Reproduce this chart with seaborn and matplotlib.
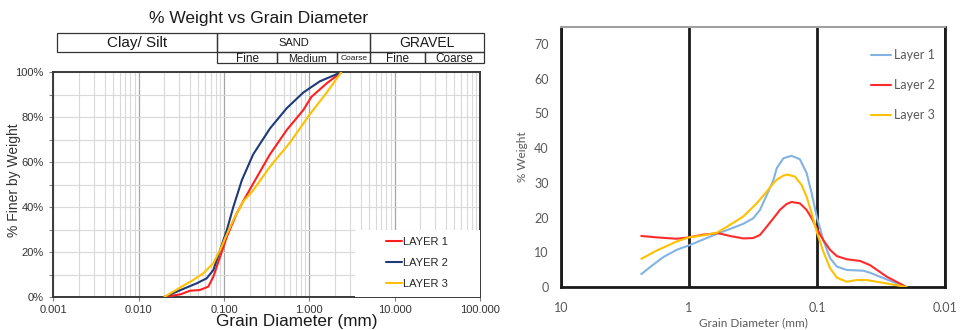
import pandas as pd
import matplotlib
matplotlib.use('Agg')
import matplotlib.pyplot as plt
from matplotlib.patches import Rectangle
from matplotlib.lines import Line2D
from matplotlib.ticker import FixedLocator, LogLocator, NullLocator, NullFormatter
import seaborn as sns

# ---- left chart: cumulative % finer ----
layer1_d = [0.020, 0.031, 0.040, 0.052, 0.0655, 0.075, 0.090, 0.108, 0.141, 0.17, 0.22,
            0.346, 0.543, 0.85, 1.06, 1.6, 2.36]
layer1_pct = [0, 1.2, 2.8, 3.1, 4.6, 9.0, 17.9, 26.8, 37.2, 43.0, 50.5,
              63.5, 74.3, 83.2, 89.1, 95.1, 100]
layer2_d = [0.020, 0.031, 0.048, 0.0627, 0.075, 0.090, 0.108, 0.1285, 0.162, 0.22,
            0.346, 0.543, 0.85, 1.33, 2.36]
layer2_pct = [0, 3.1, 6.1, 8.3, 12.0, 20.9, 29.8, 40.0, 52.0, 63.5,
              75.0, 84.0, 91.0, 96.0, 100]
layer3_d = [0.020, 0.031, 0.0437, 0.057, 0.075, 0.090, 0.103, 0.1285, 0.168, 0.22,
            0.346, 0.6, 1.0, 1.6, 2.36]
layer3_pct = [0, 4.3, 7.6, 10.5, 15.0, 20.9, 26.1, 34.3, 42.5, 47.5,
              58.0, 69.0, 81.0, 91.0, 100]

cum_labels = ['LAYER 1', 'LAYER 2', 'LAYER 3']
cum_colors = ['#ff1f1f', '#1f3a78', '#ffc000']
x_ticks_left = [0.001, 0.01, 0.1, 1, 10, 100]
x_ticklabels_left = ['0.001', '0.010', '0.100', '1.000', '10.000', '100.000']

# ---- right chart: % weight retained ----
w1_d = [2.36, 2.02, 1.59, 1.25, 1.0, 0.773, 0.608, 0.479, 0.377, 0.315, 0.279, 0.247,
        0.219, 0.2065, 0.183, 0.158, 0.136, 0.1205, 0.110, 0.1005, 0.0893, 0.079,
        0.070, 0.0586, 0.0435, 0.0385, 0.0286, 0.020]
w1 = [3.7, 5.7, 8.6, 10.7, 12.0, 13.7, 15.3, 16.7, 18.2, 19.8, 22.2, 26.5,
      30.8, 34.2, 37.1, 37.8, 36.8, 32.8, 27.0, 20.3, 13.5, 8.3,
      5.9, 4.9, 4.7, 4.1, 2.2, 0]
w2_d = [2.36, 1.79, 1.25, 1.0, 0.773, 0.59, 0.479, 0.377, 0.315, 0.279, 0.247, 0.219,
        0.194, 0.173, 0.158, 0.136, 0.1205, 0.110, 0.1005, 0.0893, 0.079, 0.070,
        0.0586, 0.046, 0.0385, 0.0286, 0.020]
w2 = [14.7, 14.3, 13.9, 14.3, 15.1, 15.5, 14.7, 14.0, 14.1, 15.0, 17.4, 19.8,
      22.3, 23.9, 24.5, 24.1, 22.2, 19.8, 16.9, 13.5, 10.7, 8.9,
      8.0, 7.5, 6.3, 3.0, 0]
w3_d = [2.36, 1.79, 1.25, 1.0, 0.773, 0.608, 0.479, 0.377, 0.296, 0.247, 0.219,
        0.2065, 0.183, 0.170, 0.1486, 0.132, 0.1205, 0.110, 0.1005, 0.0893, 0.079,
        0.070, 0.0586, 0.049, 0.0407, 0.0295, 0.020]
w3 = [8.1, 10.5, 13.1, 14.3, 14.9, 15.6, 17.9, 20.3, 24.1, 27.5, 29.9,
      30.9, 32.1, 32.4, 31.8, 29.4, 26.0, 21.2, 15.9, 10.2, 5.4,
      2.7, 1.5, 2.0, 2.0, 1.1, 0]

wt_labels = ['Layer 1', 'Layer 2', 'Layer 3']
wt_colors = ['#82b3e3', '#ff2b2b', '#ffc000']
x_ticks_right = [10, 1, 0.1, 0.01]
x_ticklabels_right = ['10', '1', '0.1', '0.01']

cum_df = pd.concat([
    pd.DataFrame({'d': layer1_d, 'pct': layer1_pct, 'layer': cum_labels[0]}),
    pd.DataFrame({'d': layer2_d, 'pct': layer2_pct, 'layer': cum_labels[1]}),
    pd.DataFrame({'d': layer3_d, 'pct': layer3_pct, 'layer': cum_labels[2]}),
])
wt_df = pd.concat([
    pd.DataFrame({'d': w1_d, 'w': w1, 'layer': wt_labels[0]}),
    pd.DataFrame({'d': w2_d, 'w': w2, 'layer': wt_labels[1]}),
    pd.DataFrame({'d': w3_d, 'w': w3, 'layer': wt_labels[2]}),
])

sns.set_theme(style='white')
plt.rcParams['font.family'] = ['Liberation Sans', 'DejaVu Sans']
calibri_like = ['Lato', 'DejaVu Sans']

fig = plt.figure(figsize=(9.61, 3.30), dpi=100)
W, H = 961, 330

def px_axes(l, t, r, b):
    return fig.add_axes([l / W, 1 - b / H, (r - l) / W, (b - t) / H])

# ================= left chart =================
ax1 = px_axes(53.3, 72.3, 480, 297)
ax1.set_xscale('log')
sns.lineplot(data=cum_df, x='d', y='pct', hue='layer', palette=dict(zip(cum_labels, cum_colors)),
             linewidth=1.5, legend=False, ax=ax1, zorder=4)
ax1.set_xlim(0.001, 100)
ax1.set_ylim(0, 100)
ax1.xaxis.set_major_locator(FixedLocator(x_ticks_left))
ax1.set_xticklabels(x_ticklabels_left)
ax1.xaxis.set_minor_locator(LogLocator(base=10, subs=range(2, 10)))
ax1.xaxis.set_minor_formatter(NullFormatter())
ax1.set_yticks(range(0, 101, 20))
ax1.set_yticklabels([f'{v}%' for v in range(0, 101, 20)])
ax1.yaxis.set_minor_locator(FixedLocator(range(10, 100, 20)))
ax1.grid(which='major', axis='x', color='#a6a6a6', linewidth=0.9)
ax1.grid(which='minor', axis='x', color='#d9d9d9', linewidth=0.8)
ax1.grid(which='both', axis='y', color='#d9d9d9', linewidth=0.8)
ax1.set_axisbelow(True)
ax1.tick_params(axis='both', which='major', labelsize=8, labelcolor='#333333', length=3,
                width=0.8, color='#808080', pad=4, direction='out', left=True, bottom=True)
ax1.tick_params(axis='x', which='major', pad=2.5)
ax1.tick_params(axis='y', which='minor', length=3, width=0.8, color='#808080', left=True)
ax1.tick_params(axis='x', which='minor', length=0)
for s in ax1.spines.values():
    s.set_color('#3a3a3a')
    s.set_linewidth(1.4)
ax1.set_xlabel('Grain Diameter (mm)', fontsize=12.3, color='#1a1a1a')
ax1.xaxis.label.set_va('baseline')
ax1.xaxis.set_label_coords(0.570, -0.1277)
ax1.set_ylabel('% Finer by Weight', fontsize=10, color='#333333')
ax1.yaxis.set_label_coords(-0.076, 0.52)

# white panel behind the legend
ax1.add_patch(Rectangle((0.707, 0), 0.293, 0.298, transform=ax1.transAxes,
                        facecolor='white', edgecolor='none', zorder=3))
h1 = [Line2D([], [], color=c, linewidth=1.5) for c in cum_colors]
ax1.legend(h1, cum_labels, loc='center left', bbox_to_anchor=(0.757, 0.153), frameon=False,
           fontsize=8, handlelength=1.45, handletextpad=0.08, labelspacing=0.98,
           labelcolor='#262626')

# ================= header (title + soil classes) =================
hd = fig.add_axes([0, 0, 1, 1])
hd.set_xlim(0, W)
hd.set_ylim(H, 0)
hd.axis('off')
hd.patch.set_alpha(0)
hd.text(259, 18, '% Weight vs Grain Diameter', fontsize=12.5, ha='center', va='center', color='#1a1a1a')

row_top, row_mid, row_bot = 32.5, 52.3, 63.3
top_cells = [(56.7, 217.3, 'Clay/ Silt', 11), (217.3, 370, 'SAND', 8), (370, 484, 'GRAVEL', 10)]
sub_cells = [(217.3, 277, 'Fine', 8.5), (277, 337.3, 'Medium', 7.8), (337.3, 370, 'Coarse', 6),
             (370, 425, 'Fine', 8.5), (425, 484, 'Coarse', 8.5)]
for l, r, txt, fs in top_cells:
    hd.add_patch(Rectangle((l, row_top), r - l, row_mid - row_top, fill=False,
                           edgecolor='#333333', linewidth=0.9))
    hd.text((l + r) / 2, (row_top + row_mid) / 2 + 0.5, txt, fontsize=fs, ha='center', va='center',
            color='#1a1a1a')
for l, r, txt, fs in sub_cells:
    hd.add_patch(Rectangle((l, row_mid), r - l, row_bot - row_mid, fill=False,
                           edgecolor='#333333', linewidth=0.9))
    hd.text((l + r) / 2, (row_mid + row_bot) / 2 + 1.2, txt, fontsize=fs, ha='center', va='center',
            color='#1a1a1a')

# ================= right chart =================
ax2 = px_axes(561, 26.7, 945, 287)
ax2.set_xscale('log')
sns.lineplot(data=wt_df, x='d', y='w', hue='layer', palette=dict(zip(wt_labels, wt_colors)),
             linewidth=1.5, legend=False, ax=ax2, zorder=3)
ax2.set_xlim(10, 0.01)
ax2.set_ylim(0, 75)
ax2.xaxis.set_major_locator(FixedLocator(x_ticks_right))
ax2.set_xticklabels(x_ticklabels_right)
ax2.xaxis.set_minor_locator(NullLocator())
ax2.set_yticks(range(0, 71, 10))
ax2.grid(which='major', axis='x', color='#1a1a1a', linewidth=2)
ax2.grid(False, axis='y')
ax2.set_axisbelow(True)
ax2.tick_params(axis='both', length=0, labelsize=9, labelcolor='#595959')
ax2.tick_params(axis='x', pad=11)
ax2.tick_params(axis='y', pad=9)
for name, s in ax2.spines.items():
    s.set_color('#1a1a1a')
    s.set_linewidth(2)
ax2.spines['top'].set_color('#a0a0a0')
ax2.spines['top'].set_linewidth(1.5)
for t in ax2.get_xticklabels() + ax2.get_yticklabels():
    t.set_family(calibri_like)
ax2.set_xlabel('Grain Diameter (mm)', fontsize=8.5, color='#595959', family=calibri_like,
               labelpad=2)
ax2.set_ylabel('% Weight', fontsize=8.5, color='#595959', family=calibri_like, labelpad=4)
h2 = [Line2D([], [], color=c, linewidth=1.5) for c in wt_colors]
ax2.legend(h2, wt_labels, loc='center left', bbox_to_anchor=(0.778, 0.775), frameon=False,
           handlelength=1.6, handletextpad=0.2, labelspacing=1.45,
           labelcolor='#595959', prop={'family': calibri_like, 'size': 9})

fig.savefig('out.png', dpi=100)
